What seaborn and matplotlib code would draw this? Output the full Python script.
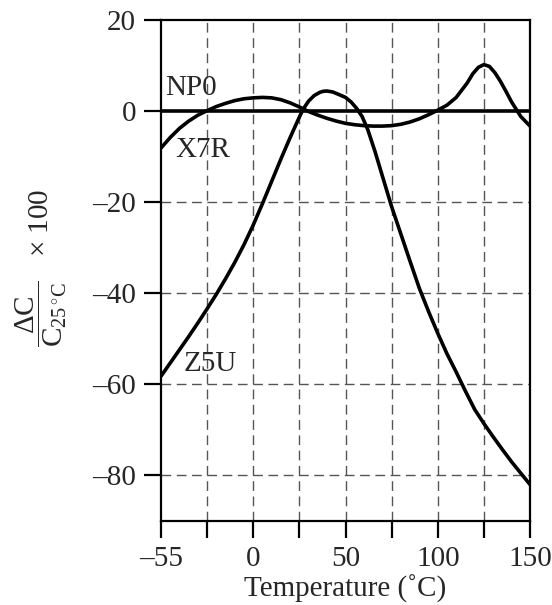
import numpy as np
import pandas as pd
import matplotlib
matplotlib.use("Agg")
import matplotlib.pyplot as plt
import seaborn as sns

# temperatura (posición en el eje; el borde izquierdo se rotula -55)
temp_x7r = [-50, -45, -40, -35, -30, -25, -20, -15, -10, -5, 0, 5, 10, 15, 20, 25,
            30, 35, 40, 45, 50, 55, 60, 65, 70, 75, 80, 85, 90, 95, 100, 105, 110,
            113, 116, 119, 122, 125, 128, 131, 134, 137, 140, 145, 150]
x7r = [-8.1, -5.8, -3.8, -2.2, -0.9, 0.1, 1.0, 1.7, 2.3, 2.7, 2.9, 3.0, 2.9, 2.5,
       1.8, 0.9, -0.1, -0.9, -1.6, -2.2, -2.7, -3.0, -3.2, -3.3, -3.3, -3.2, -2.9,
       -2.4, -1.7, -0.8, 0.2, 1.3, 3.0, 4.6, 6.2, 8.2, 9.6, 10.2, 9.8, 8.4, 6.5,
       4.3, 2.0, -1.2, -3.3]

temp_z5u = [-50, -45, -40, -35, -30, -25, -20, -15, -10, -5, 0, 5, 10, 15, 20, 25,
            27, 30, 33, 36, 38, 40, 43, 46, 50, 53, 56, 59, 62, 66, 70, 75, 80, 85,
            90, 95, 100, 105, 110, 115, 120, 125, 130, 135, 140, 145, 150]
z5u = [-58.2, -55.3, -52.4, -49.5, -46.5, -43.4, -40.2, -36.8, -33.2, -29.3, -25.0,
       -20.3, -15.4, -10.5, -5.8, -1.3, 0.4, 2.2, 3.4, 4.1, 4.35, 4.4, 4.2, 3.7,
       3.0, 2.0, 0.6, -1.2, -4.0, -8.9, -14.3, -21.0, -27.0, -33.0, -38.9, -44.0,
       -48.8, -53.3, -57.3, -61.5, -65.5, -68.6, -71.5, -74.3, -77.0, -79.5, -82.0]

temp_np0 = [-50, 150]
np0 = [0, 0]

xticks = [-50, 0, 50, 100, 150]
xtick_labels = ["\u201355", "0", "50", "100", "150"]
yticks = [-80, -60, -40, -20, 0, 20]
ytick_labels = ["\u201380", "\u201360", "\u201340", "\u201320", "0", "20"]

sns.set_style("ticks")
plt.rcParams["font.family"] = ["Liberation Serif", "DejaVu Serif"]
plt.rcParams["mathtext.fontset"] = "custom"
plt.rcParams["mathtext.rm"] = "Liberation Serif"
plt.rcParams["mathtext.it"] = "Liberation Serif:italic"

fig = plt.figure(figsize=(5.52, 6.05), dpi=100)
ax = fig.add_axes([0.2917, 0.1388, 0.6685, 0.8282])

# rejilla discontinua
for gx in [-25, 0, 25, 50, 75, 100, 125]:
    ax.axvline(gx, color="#555555", lw=1.0, ls=(0, (7, 4)), zorder=1)
for gy in [-80, -60, -40, -20]:
    ax.axhline(gy, color="#555555", lw=1.0, ls=(0, (7, 4)), zorder=1)

df = pd.concat([
    pd.DataFrame({"T": temp_np0, "v": np0, "tipo": "NP0"}),
    pd.DataFrame({"T": temp_x7r, "v": x7r, "tipo": "X7R"}),
    pd.DataFrame({"T": temp_z5u, "v": z5u, "tipo": "Z5U"}),
])
for tipo, sub in df.groupby("tipo"):
    sns.lineplot(data=sub, x="T", y="v", ax=ax, color="black", lw=2.6,
                 sort=False, estimator=None, legend=False, zorder=3)

ax.set_xlim(-50, 150)
ax.set_ylim(-90, 20)
ax.set_xticks(xticks)
ax.set_xticklabels(xtick_labels)
ax.set_xticks([-25, 25, 75, 125], minor=True)
ax.set_yticks(yticks)
ax.set_yticklabels(ytick_labels)
ax.tick_params(which="both", direction="out", length=12, width=1.6,
               labelsize=21, pad=6, color="black")
for s in ax.spines.values():
    s.set_linewidth(1.6)
    s.set_color("black")

ax.text(-47.5, 2.2, "NP0", fontsize=21, ha="left", va="bottom")
ax.text(-42, -8.6, "X7R", fontsize=21, ha="left", va="center")
ax.text(-38, -55.6, "Z5U", fontsize=21, ha="left", va="center")

ax.set_xlabel("Temperature (\u02daC)", fontsize=21, labelpad=2)
fig.text(0.075, 0.557,
         r"$\dfrac{\mathrm{\Delta C}}{\mathrm{C_{25\,^{\circ}C}}}$" + "   \u00d7 100",
         rotation=90, fontsize=21, ha="center", va="center")
ax.set_ylabel("")

fig.savefig("out.png", dpi=100)
